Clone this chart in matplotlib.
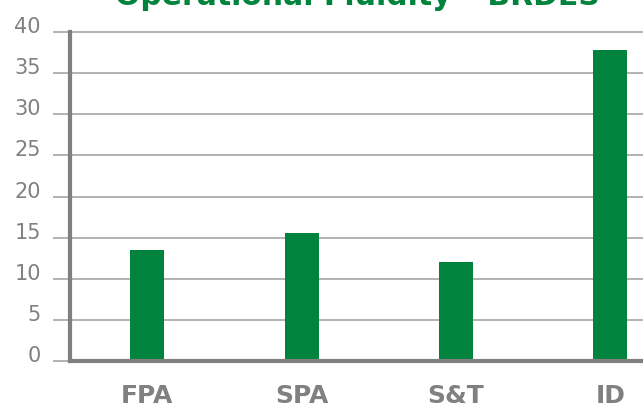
import numpy as np
import matplotlib
matplotlib.use('Agg')
import matplotlib.pyplot as plt

categories = ['FPA', 'SPA', 'S&T', 'ID']
values = [13.5, 15.6, 12.0, 37.8]
yticks = [0, 5, 10, 15, 20, 25, 30, 35, 40]

green = '#00843d'
grey = '#808080'

fig = plt.figure(figsize=(6.43, 4.06), dpi=100)
ax = fig.add_axes([0.109, 0.108, 0.96, 0.811])

x = np.arange(len(categories))
ax.bar(x, values, width=0.22, color=green, zorder=3)

ax.set_xlim(-0.5, 3.5)
ax.set_ylim(0, 40)
ax.set_xticks(x)
ax.set_xticklabels(categories, fontsize=18, fontweight='bold', color=grey)
ax.set_yticks(yticks)
ax.set_yticklabels([str(t) for t in yticks], fontsize=15, color=grey)
for lab in ax.get_yticklabels():
    lab.set_va('baseline')

ax.tick_params(axis='x', length=0, pad=16)
ax.tick_params(axis='y', length=12, width=1.2, color='#a6a6a6', pad=9)

ax.grid(axis='y', color='#a6a6a6', lw=1.2, zorder=0, clip_on=False)
for s in ['top', 'right']:
    ax.spines[s].set_visible(False)
for s in ['left', 'bottom']:
    ax.spines[s].set_color(grey)
    ax.spines[s].set_linewidth(3)
    ax.spines[s].set_zorder(4)

fig.text(357 / 643, 0.988, 'Operational Fluidity \u2013 BRDES', ha='center', va='baseline',
         fontsize=21.5, fontweight='bold', color=green)

fig.savefig('out.png', dpi=100)
